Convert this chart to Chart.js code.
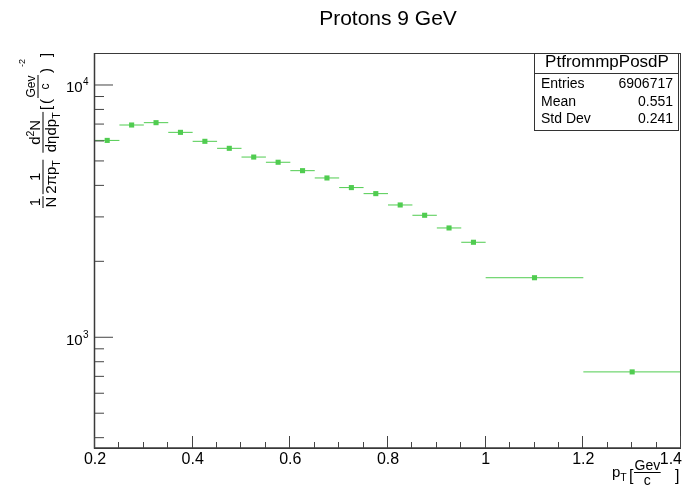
<!DOCTYPE html>
<html lang="en">
<head>
    <meta charset="UTF-8">
    <title>Protons 9 GeV</title>
    <script src="https://cdn.jsdelivr.net/npm/chart.js"></script>
    <style>
        body {
            margin: 0;
            padding: 0;
            background: #fff;
        }
        #wrap {
            width: 695px;
            height: 490px;
        }
    </style>
</head>
<body>
    <div id="wrap">
        <canvas id="ptChart" width="695" height="490"></canvas>
    </div>

    <script>
        // pT spectrum, variable bins
        const binEdges = [0.2, 0.25, 0.3, 0.35, 0.4, 0.45, 0.5, 0.55, 0.6, 0.65, 0.7, 0.75, 0.8, 0.85, 0.9, 0.95, 1.0, 1.2, 1.4];
        const counts = [6030, 6940, 7090, 6490, 5980, 5610, 5180, 4940, 4575, 4280, 3920, 3710, 3345, 3045, 2712, 2380, 1722, 729];

        // axes
        const xMajorTicks = [0.2, 0.4, 0.6, 0.8, 1.0, 1.2, 1.4];
        const xTickLabels = ['0.2', '0.4', '0.6', '0.8', '1', '1.2', '1.4'];
        const yMajorTicks = [1000, 10000];
        const yTickExponents = ['3', '4'];
        const yMinorTicks = [400, 500, 600, 700, 800, 900, 2000, 3000, 4000, 5000, 6000, 7000, 8000, 9000];

        // stats box
        const statsTitle = 'PtfrommpPosdP';
        const statsRows = [['Entries', '6906717'], ['Mean', '0.551'], ['Std Dev', '0.241']];

        const FONT = '"Liberation Sans", Arial, Helvetica, sans-serif';
        const GREEN = '#50cc50';
        const AXIS = '#3a3a3a';

        const points = counts.map((c, i) => ({ x: (binEdges[i] + binEdges[i + 1]) / 2, y: c }));

        function font(size) { return size + 'px ' + FONT; }

        // small rich-text helpers: segments are [text, kind], kind 1 = sup, -1 = sub
        function richWidth(ctx, segs, size) {
            let w = 0;
            segs.forEach(([t, k]) => {
                ctx.font = font(k ? size * 0.7 : size);
                w += ctx.measureText(t).width;
            });
            return w;
        }

        function drawRich(ctx, segs, x, y, size) {
            let cx = x;
            segs.forEach(([t, k]) => {
                const s = k ? size * 0.7 : size;
                const dy = k === 1 ? -size * 0.4 : (k === -1 ? size * 0.25 : 0);
                ctx.font = font(s);
                ctx.fillText(t, cx, y + dy);
                cx += ctx.measureText(t).width;
            });
            return cx - x;
        }

        function drawFrac(ctx, x, num, den, size, barY) {
            const nw = richWidth(ctx, num, size);
            const dw = richWidth(ctx, den, size);
            const w = Math.max(nw, dw) + 1;
            ctx.beginPath();
            ctx.moveTo(x, barY);
            ctx.lineTo(x + w, barY);
            ctx.lineWidth = 1;
            ctx.stroke();
            drawRich(ctx, num, x + (w - nw) / 2, barY - 3, size);
            drawRich(ctx, den, x + (w - dw) / 2, barY + 2 + size * 0.72, size);
            return w;
        }

        const rootStyle = {
            id: 'rootStyle',
            beforeDatasetsDraw(chart) {
                // horizontal bin-width bars
                const { ctx, scales: { x, y } } = chart;
                ctx.save();
                ctx.strokeStyle = GREEN;
                ctx.lineWidth = 1;
                counts.forEach((c, i) => {
                    const py = y.getPixelForValue(c);
                    ctx.beginPath();
                    ctx.moveTo(x.getPixelForValue(binEdges[i]), py);
                    ctx.lineTo(x.getPixelForValue(binEdges[i + 1]), py);
                    ctx.stroke();
                });
                ctx.restore();
            },
            afterDraw(chart) {
                const { ctx, chartArea: a, scales: { x, y } } = chart;
                ctx.save();

                // frame
                ctx.strokeStyle = AXIS;
                ctx.lineWidth = 1;
                ctx.strokeRect(a.left - 0.5, a.top + 0.5, a.right - a.left, a.bottom - a.top);
                ctx.lineWidth = 1.5;
                ctx.beginPath();
                ctx.moveTo(a.left - 0.5, a.top);
                ctx.lineTo(a.left - 0.5, a.bottom);
                ctx.lineTo(a.right, a.bottom);
                ctx.stroke();

                // x ticks
                ctx.strokeStyle = '#444';
                ctx.lineWidth = 1;
                for (let v = 0.2; v <= 1.4001; v += 0.05) {
                    const px = Math.round(x.getPixelForValue(v)) - 0.5;
                    const major = xMajorTicks.some(t => Math.abs(t - v) < 1e-6);
                    ctx.beginPath();
                    ctx.moveTo(px, a.bottom);
                    ctx.lineTo(px, a.bottom - (major ? 12 : 6));
                    ctx.stroke();
                }

                // y ticks
                yMajorTicks.concat(yMinorTicks).forEach(v => {
                    const py = y.getPixelForValue(v);
                    const major = yMajorTicks.includes(v);
                    ctx.beginPath();
                    ctx.moveTo(a.left, py);
                    ctx.lineTo(a.left + (major ? 18 : 9), py);
                    ctx.stroke();
                });

                // tick labels
                ctx.fillStyle = '#000';
                ctx.font = font(16);
                ctx.textAlign = 'center';
                ctx.textBaseline = 'alphabetic';
                xMajorTicks.forEach((v, i) => {
                    let px = x.getPixelForValue(v);
                    const w = ctx.measureText(xTickLabels[i]).width;
                    if (px + w / 2 > a.right + 1) px = a.right + 1 - w / 2;
                    ctx.fillText(xTickLabels[i], px, 464);
                });

                ctx.textAlign = 'left';
                yMajorTicks.forEach((v, i) => {
                    const py = y.getPixelForValue(v);
                    ctx.font = font(15);
                    ctx.fillText('10', 66, py + 7.5);
                    ctx.font = font(10);
                    ctx.fillText(yTickExponents[i], 83, py + 0.5);
                });

                // title
                ctx.textAlign = 'center';
                ctx.font = font(21);
                ctx.fillText('Protons 9 GeV', (a.left + a.right) / 2, 25);

                // x title: p_T [Gev/c]
                ctx.textAlign = 'left';
                ctx.strokeStyle = '#000';
                drawRich(ctx, [['p'], ['T', -1]], 612, 477, 15);
                ctx.font = font(16);
                ctx.fillText('[', 629, 481);
                drawFrac(ctx, 634, [['Gev']], [['c']], 14, 472.5);
                ctx.font = font(16);
                ctx.fillText(']', 675, 481);

                // y title, rotated
                ctx.save();
                ctx.translate(43, 210);
                ctx.rotate(-Math.PI / 2);
                let u = 2;
                u += drawFrac(ctx, u, [['1']], [['N']], 15, 0) + 2;
                u += drawFrac(ctx, u, [['1']], [['2\u03c0p'], ['T', -1]], 15, 0) + 7;
                drawFrac(ctx, u, [['d'], ['2', 1], ['N']], [['d\u03b7dp'], ['T', -1]], 15, 0);
                ctx.font = font(15);
                ctx.fillText('[', 100, 8);
                ctx.fillText('(', 106, 8);
                drawFrac(ctx, 112, [['Gev']], [['c']], 12, -5);
                ctx.font = font(15);
                ctx.fillText(')', 137, 8);
                ctx.font = font(9);
                ctx.fillText('-2', 143, -18);
                ctx.font = font(15);
                ctx.fillText(']', 153, 8);
                ctx.restore();

                // stats box
                const bx = 534, by = 53, bw = 144, bh = 77;
                ctx.fillStyle = '#fff';
                ctx.fillRect(bx, by, bw, bh);
                ctx.strokeStyle = '#333';
                ctx.lineWidth = 1;
                ctx.strokeRect(bx + 0.5, by + 0.5, bw, bh);
                ctx.beginPath();
                ctx.moveTo(bx, by + 20.5);
                ctx.lineTo(bx + bw, by + 20.5);
                ctx.stroke();
                ctx.fillStyle = '#000';
                ctx.font = font(17);
                ctx.textAlign = 'center';
                ctx.fillText(statsTitle, bx + bw / 2 + 1, 67);
                ctx.font = font(14);
                statsRows.forEach(([k, v], i) => {
                    const base = 88 + i * 17.5;
                    ctx.textAlign = 'left';
                    ctx.fillText(k, 541, base);
                    ctx.textAlign = 'right';
                    ctx.fillText(v, 673, base);
                });

                ctx.restore();
            }
        };

        const chart = new Chart(document.getElementById('ptChart'), {
            type: 'scatter',
            data: {
                datasets: [{
                    label: 'PtfrommpPosdP',
                    data: points,
                    pointStyle: 'rect',
                    pointRadius: 3.6,
                    pointBorderWidth: 0,
                    backgroundColor: GREEN,
                    borderColor: GREEN
                }]
            },
            options: {
                responsive: false,
                animation: false,
                devicePixelRatio: 1,
                layout: { padding: { left: 95, right: 14, top: 53, bottom: 42 } },
                scales: {
                    x: { type: 'linear', min: 0.2, max: 1.4, display: false },
                    y: { type: 'logarithmic', min: 364, max: 13390, display: false }
                },
                plugins: {
                    legend: { display: false },
                    tooltip: { enabled: false }
                }
            },
            plugins: [rootStyle]
        });
    </script>
</body>
</html>
